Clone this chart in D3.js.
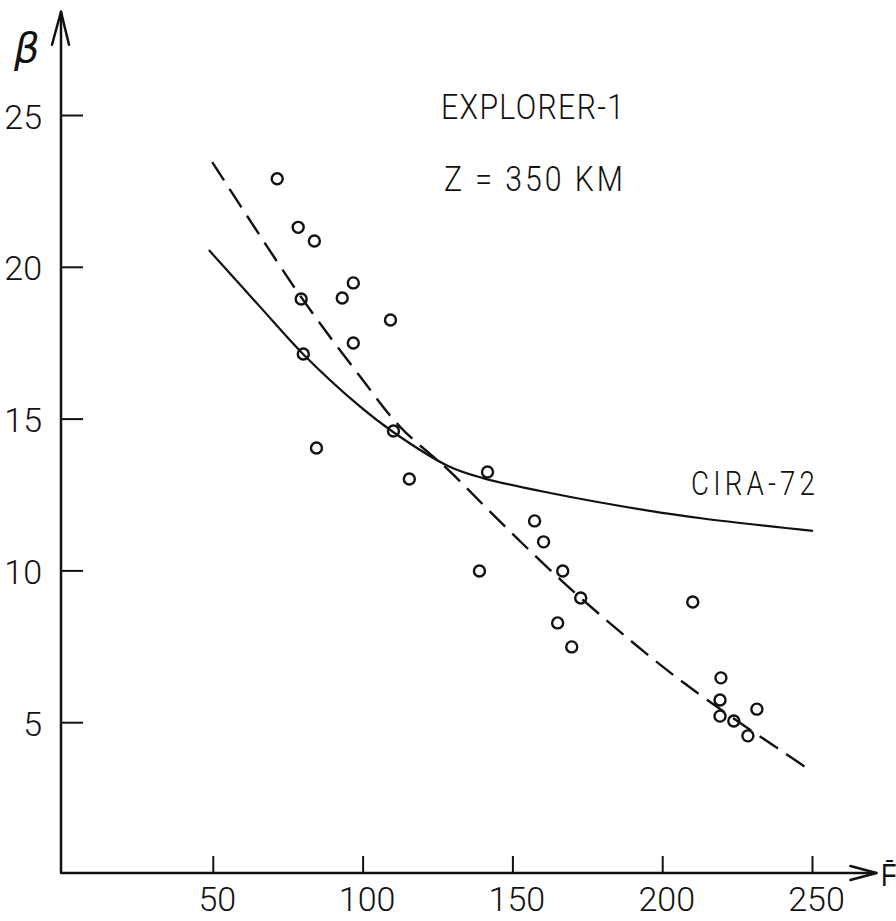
<!DOCTYPE html>
<html>
<head>
<meta charset="utf-8">
<script src="https://cdn.jsdelivr.net/npm/d3@7/dist/d3.min.js"></script>
<style>
  html, body { margin: 0; padding: 0; background: #fff; }
  svg { display: block; }
  text { font-family: Roboto, "Liberation Sans", sans-serif; font-weight: 300; fill: #111; }
</style>
</head>
<body>
<svg id="chart" width="896" height="921"></svg>
<script>
// Observed satellite drag points: solar flux F̄ vs β
const obsF    = [71.5, 78.5, 83.9, 79.5, 80.2, 93.2, 96.9, 96.9, 109.3, 110.3, 84.6, 115.6, 141.7, 139.0,
                 157.4, 160.4, 166.8, 172.8, 165.1, 169.8, 210.2, 219.6, 219.3, 219.3, 223.9, 228.6, 231.6];
const obsBeta = [22.9, 21.3, 20.85, 18.94, 17.13, 18.97, 19.47, 17.49, 18.25, 14.59, 14.03, 13.01, 13.24, 9.98,
                 11.63, 10.94, 9.98, 9.09, 8.27, 7.48, 8.96, 6.46, 5.73, 5.20, 5.04, 4.55, 5.43];

// CIRA-72 model curve (solid)
const ciraF    = [48.7, 65.8, 80.1, 99.1, 110.3, 128.5, 140.2, 162.6, 195.9, 213.6, 250.3];
const ciraBeta = [20.55, 18.68, 17.13, 15.4, 14.55, 13.44, 13.04, 12.55, 11.96, 11.71, 11.3];

// Fitted curve (dashed)
const fitF    = [49.8, 79.5, 99.3, 112.6, 128.7, 142.7, 167.1, 196.2, 215.2, 248.3];
const fitBeta = [23.45, 19.0, 16.37, 14.72, 13.3, 11.92, 9.6, 7.14, 5.72, 3.49];

// Axis ticks
const xTicks = [50, 100, 150, 200, 250];
const yTicks = [5, 10, 15, 20, 25];

const svg = d3.select("#chart");

const x = d3.scaleLinear().domain([0, 250]).range([63, 812]);
const y = d3.scaleLinear().domain([0, 25]).range([874, 115]);

const ink = "#111";
const labelFont = 'Roboto, "Liberation Sans", sans-serif';

// Axes with inward ticks
const xAxis = d3.axisBottom(x).tickValues(xTicks).tickSizeInner(-18).tickSizeOuter(0);
const gx = svg.append("g").attr("transform", `translate(0,${y(0)})`).call(xAxis);
gx.select(".domain").remove();
gx.selectAll(".tick line").attr("stroke", ink).attr("stroke-width", 2);
gx.selectAll(".tick text").attr("font-size", 34).attr("y", 37).attr("dy", null).attr("dx", 4)
  .attr("fill", ink).style("font-family", labelFont).style("font-weight", 300);

const yAxis = d3.axisLeft(y).tickValues(yTicks).tickSizeInner(-22).tickSizeOuter(0).tickPadding(19);
const gy = svg.append("g").attr("transform", `translate(${x(0) - 2},0)`).call(yAxis);
gy.select(".domain").remove();
gy.selectAll(".tick line").attr("stroke", ink).attr("stroke-width", 2);
gy.selectAll(".tick text").attr("font-size", 34).attr("dy", null).attr("y", 13)
  .attr("fill", ink).style("font-family", labelFont).style("font-weight", 300);

// Axis lines with open arrowheads
const ax0 = x(0) - 2, ay0 = y(0) - 1;
const xEnd = x(271.5), yEnd = y(28.4);
const axes = svg.append("g").attr("fill", "none").attr("stroke", ink).attr("stroke-width", 2.5)
  .attr("stroke-linecap", "round").attr("stroke-linejoin", "round");
axes.append("path").attr("d", `M${ax0},${yEnd} L${ax0},${ay0} L${xEnd},${ay0}`);
axes.append("path").attr("d", `M${xEnd - 26},${ay0 - 7} L${xEnd},${ay0} L${xEnd - 26},${ay0 + 7}`);
axes.append("path").attr("d", `M${ax0 - 9},${yEnd + 33} L${ax0},${yEnd} L${ax0 + 8},${yEnd + 33}`);

// Axis titles
svg.append("text").attr("x", 14).attr("y", 62).attr("font-size", 40)
  .style("font-family", '"DejaVu Sans", sans-serif').style("font-weight", 400)
  .attr("font-style", "italic").attr("fill", ink).text("β");
svg.append("text").attr("transform", "translate(881,886) scale(0.8,1)")
  .attr("font-size", 32).attr("fill", ink).text("F\u0304");

// Curves
const line = d3.line().x(d => x(d[0])).y(d => y(d[1])).curve(d3.curveCatmullRom.alpha(0.5));
svg.append("path").datum(ciraF.map((f, i) => [f, ciraBeta[i]]))
  .attr("d", line).attr("fill", "none").attr("stroke", ink).attr("stroke-width", 2.2);
svg.append("path").datum(fitF.map((f, i) => [f, fitBeta[i]]))
  .attr("d", line).attr("fill", "none").attr("stroke", ink).attr("stroke-width", 2.4)
  .attr("stroke-dasharray", "22 10");

// Observation circles
svg.append("g").selectAll("circle").data(obsF.map((f, i) => [f, obsBeta[i]])).join("circle")
  .attr("cx", d => x(d[0])).attr("cy", d => y(d[1])).attr("r", 5.5)
  .attr("fill", "none").attr("stroke", ink).attr("stroke-width", 2.4);

// Annotations, drawn slightly condensed
function label(px, py, size, width, str) {
  const sx = 0.84;
  svg.append("text")
    .attr("transform", `translate(${px},${py}) scale(${sx},1)`)
    .attr("font-size", size)
    .attr("textLength", width / sx).attr("lengthAdjust", "spacing")
    .text(str);
}
label(441, 119, 36, 183, "EXPLORER-1");
label(444, 191, 36, 179, "Z = 350 KM");
label(691, 495, 33, 124, "CIRA-72");
</script>
</body>
</html>
